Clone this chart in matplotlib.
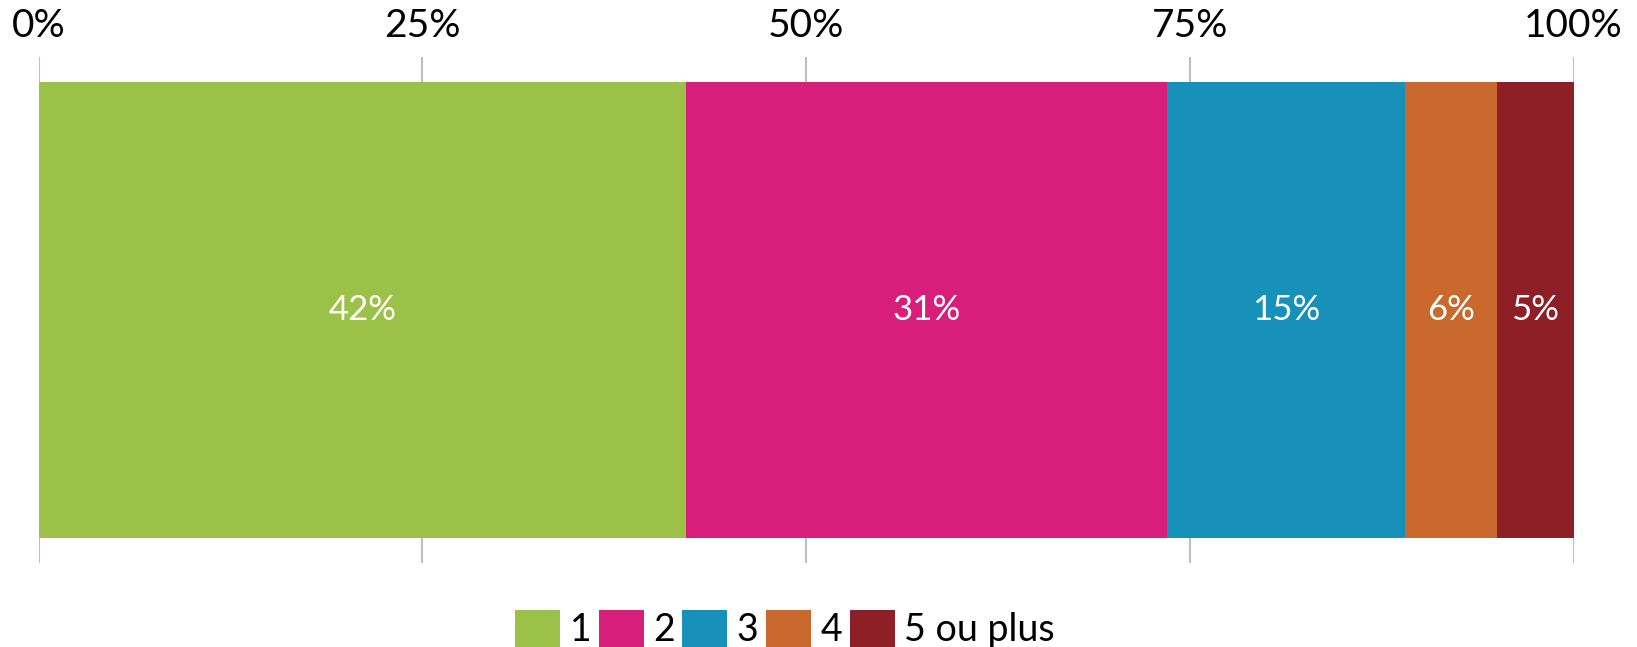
import matplotlib.pyplot as plt
from matplotlib.ticker import FuncFormatter

plt.rcParams['font.family'] = ['Lato', 'DejaVu Sans']

# Share of each category (%)
categories = ["1", "2", "3", "4", "5 ou plus"]
values = [42.2, 31.3, 15.5, 6.0, 5.0]
labels = ["42%", "31%", "15%", "6%", "5%"]
colors = ["#9BC149", "#D81E7B", "#1791BA", "#C9692E", "#8E1F27"]
ticks = [0, 25, 50, 75, 100]

fig = plt.figure(figsize=(16.37, 6.47), dpi=100)
ax = fig.add_axes([0.0236, 0.130, 0.9377, 0.782])

left = 0
for cat, val, lab, col in zip(categories, values, labels, colors):
    ax.barh(0, val, left=left, height=0.9, color=col, label=cat, zorder=2)
    ax.text(left + val / 2, 0, lab, ha="center", va="center",
            color="white", fontsize=25, zorder=3)
    left += val

ax.set_xlim(0, 100)
ax.set_ylim(-0.5, 0.5)
ax.set_xticks(ticks)
ax.xaxis.set_major_formatter(FuncFormatter(lambda v, p: f"{v:.0f}%"))
ax.xaxis.tick_top()
ax.tick_params(axis="x", length=0, pad=9, labelsize=28)
ax.set_yticks([])
ax.grid(axis="x", color="#BFBFBF", linewidth=1.5, zorder=0)
for s in ax.spines.values():
    s.set_visible(False)

fig.legend(loc="center", bbox_to_anchor=(785 / 1637, 1 - 629 / 647), ncol=5,
           frameon=False, fontsize=27, handlelength=1.2, handleheight=1.2,
           handletextpad=0.25, columnspacing=0.2, borderpad=0)

fig.savefig("out.png", dpi=100)
